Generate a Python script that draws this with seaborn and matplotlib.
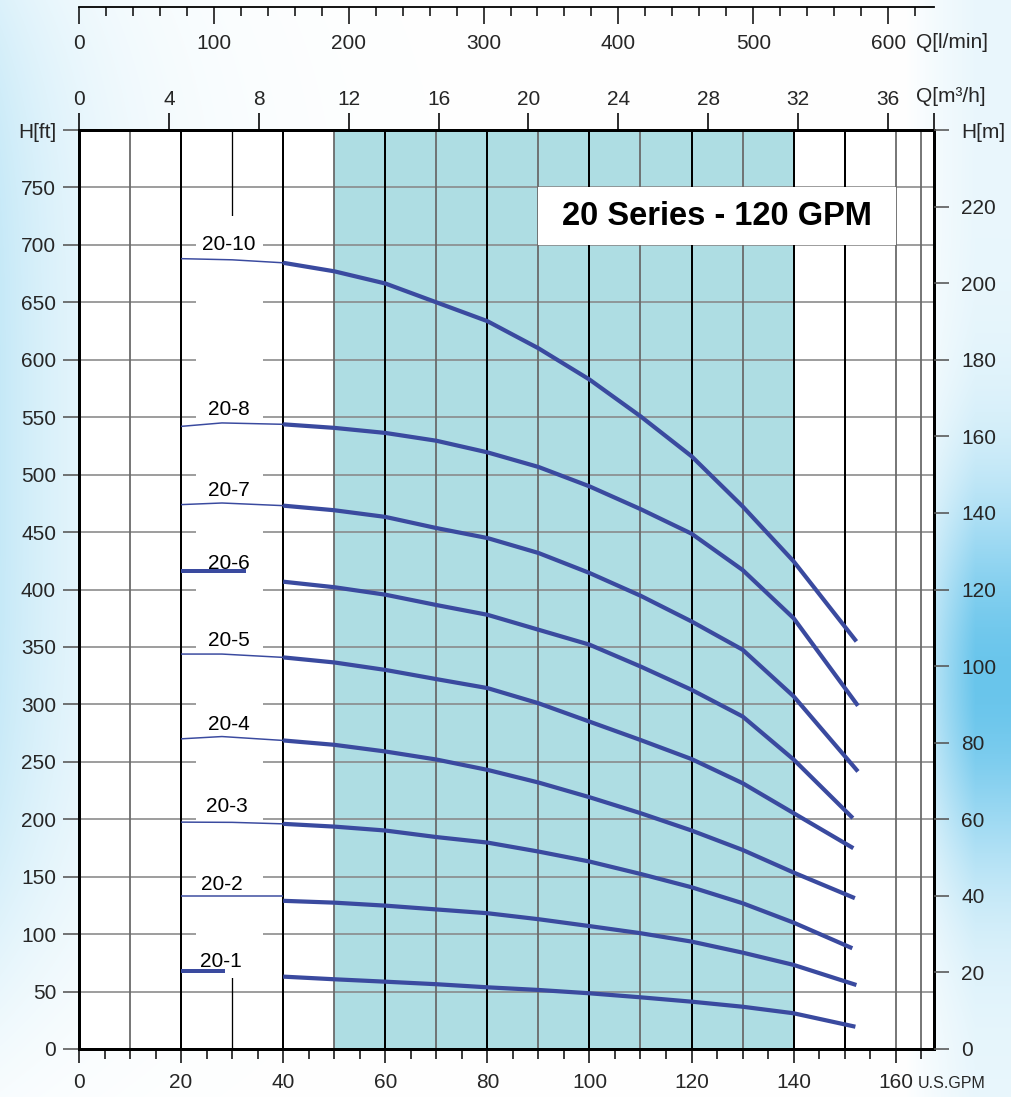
import numpy as np
import pandas as pd
import matplotlib
matplotlib.use("Agg")
import matplotlib.pyplot as plt
import seaborn as sns
from matplotlib.patches import Rectangle
from matplotlib.ticker import MultipleLocator, FixedLocator

# ---------------- data ----------------
MODELS = ["20-10", "20-8", "20-7", "20-6", "20-5", "20-4", "20-3", "20-2", "20-1"]

# thin lead-in part of each curve (20..40 GPM), head in ft
LEAD_Q = {
    "20-10": [20, 30, 40], "20-8": [20, 28, 40], "20-7": [20, 28, 40],
    "20-6": [20, 32.7], "20-5": [20, 28, 40], "20-4": [20, 28, 40],
    "20-3": [20, 30, 40], "20-2": [20, 40], "20-1": [20, 28.6],
}
LEAD_H = {
    "20-10": [688, 687, 684.4], "20-8": [542, 545, 543.8], "20-7": [473.9, 475.3, 473],
    "20-6": [415.8, 415.8], "20-5": [343.8, 343.8, 340.9], "20-4": [270, 272, 268.6],
    "20-3": [197.5, 197.3, 196], "20-2": [133.5, 133.5], "20-1": [68.2, 68.2],
}
# the short lead-in stubs of 20-6 and 20-1 are drawn thick
THICK_LEAD = ["20-6", "20-1"]

# main (thick) part of each curve
Q_MAIN = [40, 50, 60, 70, 80, 90, 100, 110, 120, 130, 140]
Q_END = {"20-10": 152.3, "20-8": 152.6, "20-7": 152.6, "20-6": 151.6, "20-5": 151.7,
         "20-4": 152.0, "20-3": 151.5, "20-2": 152.3, "20-1": 152.1}
H_MAIN = {
    "20-10": [684.4, 677, 666.4, 650, 633.6, 610, 582.8, 550.8, 516, 472.4, 424.5, 354.8],
    "20-8":  [543.8, 540.7, 536.3, 529.5, 519.4, 506.7, 489.8, 470, 448.6, 417, 375, 298.8],
    "20-7":  [473, 469, 463.2, 453.5, 444.8, 431.8, 414.4, 394.6, 372.2, 347.6, 307, 241.6],
    "20-6":  [406.8, 402, 395.5, 386.5, 378, 365, 352, 333, 312.7, 289.5, 252, 201],
    "20-5":  [340.9, 336.5, 330, 322, 314.2, 301, 285, 269, 252.4, 231.4, 205.3, 174.8],
    "20-4":  [268.6, 264.8, 259, 252, 243, 232, 219.2, 205.3, 190.2, 173.3, 153.6, 131.3],
    "20-3":  [196, 193.6, 190.2, 184.5, 179.7, 171.9, 163.2, 152.4, 140.8, 126.9, 110, 87.7],
    "20-2":  [129, 127.4, 124.8, 121.5, 118.2, 113, 107, 100.8, 93.5, 83.9, 73.2, 55.7],
    "20-1":  [63, 60.7, 58.6, 56.4, 53.7, 51.4, 48.5, 45, 41.2, 36.8, 31.1, 19.4],
}
LABEL_Q = [29.4, 29.4, 29.4, 29.4, 29.4, 29.4, 28.9, 27.9, 27.7]
LABEL_H = [700, 556.6, 486, 423, 355.4, 282.8, 211, 142.9, 76]

TITLE = "20 Series - 120 GPM"
GPM_TICKS = list(range(0, 161, 20))
FT_TICKS = list(range(0, 801, 50))
FT_LABELS = [str(v) for v in FT_TICKS[:-1]] + ["H[ft]"]
M_TICKS = list(range(0, 241, 20))
M_LABELS = [str(v) for v in M_TICKS[:-1]] + ["H[m]"]
M3H_TICKS = list(range(0, 37, 4))
LMIN_TICKS = list(range(0, 601, 100))

# ---------------- style ----------------
sns.set_style("white")
plt.rcParams["font.family"] = ["Liberation Sans", "DejaVu Sans"]

W_PX, H_PX = 1011, 1097
CURVE = "#3a4a9f"
SHADE = "#aedde3"
PX = 0.72  # points per pixel at dpi 100

fig = plt.figure(figsize=(W_PX / 100, H_PX / 100), dpi=100)

# background gradient (decoration)
yy, xx = np.mgrid[0:H_PX, 0:W_PX].astype(float)
w_left = 0.32 * np.exp(-xx / 110.0) * np.exp(-((yy - 450) / 540.0) ** 4)
w_right = np.clip((xx - 905) / 70.0, 0, 1) ** 0.8 * (0.12 + 0.72 * np.exp(-((yy - 680) / 190.0) ** 2))
w = np.clip(w_left + w_right, 0, 1)[..., None]
blue = np.array([0.30, 0.73, 0.91])
img = 1 - w * (1 - blue)
bg = fig.add_axes([0, 0, 1, 1], zorder=-10)
bg.imshow(img, aspect="auto", extent=[0, 1, 0, 1], origin="upper")
bg.axis("off")

L, R, T, B = 79, 934, 130, 1049
ax = fig.add_axes([L / W_PX, 1 - B / H_PX, (R - L) / W_PX, (B - T) / H_PX])
ax.set_facecolor("white")
XMAX = 167.5
ax.set_xlim(0, XMAX)
ax.set_ylim(0, 800)

# shaded operating range
ax.axvspan(50, 140, color=SHADE, zorder=0.5, lw=0)

# grid
for yv in range(50, 800, 50):
    ax.axhline(yv, color="#888888", lw=1.6 * PX, zorder=1)
black_v = [20, 40, 60, 80, 100, 120, 140, 150]
gray_v = [10, 50, 70, 90, 110, 130, 160, 165]
for xv in black_v:
    ax.axvline(xv, color="black", lw=2.0 * PX, zorder=1)
for xv in gray_v:
    ax.axvline(xv, color="#6a6a6a", lw=1.8 * PX, zorder=1)
ax.axvline(30, color="black", lw=1.3 * PX, zorder=1)

# white band behind the labels and the title box
ax.add_patch(Rectangle((23, 62), 13, 663, facecolor="white", edgecolor="none", zorder=1.5))
ax.add_patch(Rectangle((90, 700), 70, 50, facecolor="white", edgecolor="none", zorder=1.5))
ax.text(125, 725, TITLE, ha="center", va="center", fontsize=23.5, fontweight="bold",
        color="black", zorder=5)

# curves
for m in MODELS:
    lead = pd.DataFrame({"Q": LEAD_Q[m], "H": LEAD_H[m]})
    lw = 4.0 * PX if m in THICK_LEAD else 1.5 * PX
    sns.lineplot(data=lead, x="Q", y="H", ax=ax, color=CURVE, lw=lw, sort=False,
                 estimator=None, zorder=4, solid_capstyle="butt", solid_joinstyle="round")
    main = pd.DataFrame({"Q": Q_MAIN + [Q_END[m]], "H": H_MAIN[m]})
    sns.lineplot(data=main, x="Q", y="H", ax=ax, color=CURVE, lw=4.2 * PX, sort=False,
                 estimator=None, zorder=4, solid_capstyle="butt", solid_joinstyle="round")

for m, qx, hy in zip(MODELS, LABEL_Q, LABEL_H):
    ax.text(qx, hy, m, ha="center", va="center", fontsize=15, color="black", zorder=5)

ax.set_xlabel("")
ax.set_ylabel("")

# spines
for s in ax.spines.values():
    s.set_visible(True)
    s.set_color("black")
    s.set_linewidth(3.0 * PX)
    s.set_zorder(6)

# bottom ticks
ax.set_xticks(GPM_TICKS)
ax.xaxis.set_minor_locator(MultipleLocator(5))
ax.tick_params(axis="x", which="major", bottom=True, direction="out", length=14 * PX,
               width=1.5 * PX, color="black", labelsize=15, pad=7)
ax.tick_params(axis="x", which="minor", bottom=True, direction="out", length=10 * PX,
               width=1.5 * PX, color="black")
# left ticks
ax.set_yticks(FT_TICKS)
ax.set_yticklabels(FT_LABELS)
ax.tick_params(axis="y", which="major", left=True, direction="out", length=16 * PX,
               width=1.6 * PX, color="#555555", labelsize=15, pad=5)

# right axis in metres
ax2 = ax.twinx()
ax2.set_ylim(0, 240)
ax2.set_yticks(M_TICKS)
ax2.set_yticklabels(M_LABELS)
ax2.tick_params(axis="y", right=True, direction="out", length=15 * PX, width=1.6 * PX,
                color="#555555", labelsize=15, pad=9)
for s in ax2.spines.values():
    s.set_visible(False)
ax2.grid(False)

# top axis m3/h
sec = ax.secondary_xaxis("top", functions=(lambda q: q * 0.227125, lambda m: m / 0.227125))
sec.set_xticks(M3H_TICKS)
sec.xaxis.set_minor_locator(FixedLocator([XMAX * 0.227125]))
sec.tick_params(axis="x", which="major", direction="out", length=17 * PX, width=1.6 * PX,
                color="black", labelsize=15, pad=3)
sec.tick_params(axis="x", which="minor", direction="out", length=17 * PX, width=1.6 * PX,
                color="black")
sec.spines["top"].set_linewidth(3.0 * PX)

# top axis l/min
axl = fig.add_axes([L / W_PX, 1 - 7 / H_PX, (R - L) / W_PX, 0.0005])
axl.patch.set_alpha(0)
axl.set_xlim(0, XMAX * 3.78541)
axl.set_yticks([])
for k in ["top", "left", "right"]:
    axl.spines[k].set_visible(False)
axl.spines["bottom"].set_color("black")
axl.spines["bottom"].set_linewidth(1.8 * PX)
axl.set_xticks(LMIN_TICKS)
axl.xaxis.set_minor_locator(MultipleLocator(20))
axl.tick_params(axis="x", which="major", bottom=True, direction="out", length=17 * PX,
                width=1.5 * PX, color="black", labelsize=15, pad=7)
axl.tick_params(axis="x", which="minor", bottom=True, direction="out", length=9 * PX,
                width=1.5 * PX, color="black")

# axis unit labels
fig.text(916 / W_PX, 1 - 42 / H_PX, "Q[l/min]", ha="left", va="center", fontsize=15)
fig.text(916 / W_PX, 1 - 96 / H_PX, "Q[m\u00b3/h]", ha="left", va="center", fontsize=15)
fig.text(918 / W_PX, 1 - 1084 / H_PX, "U.S.GPM", ha="left", va="center", fontsize=11.5)

fig.savefig("out.png", dpi=100)
